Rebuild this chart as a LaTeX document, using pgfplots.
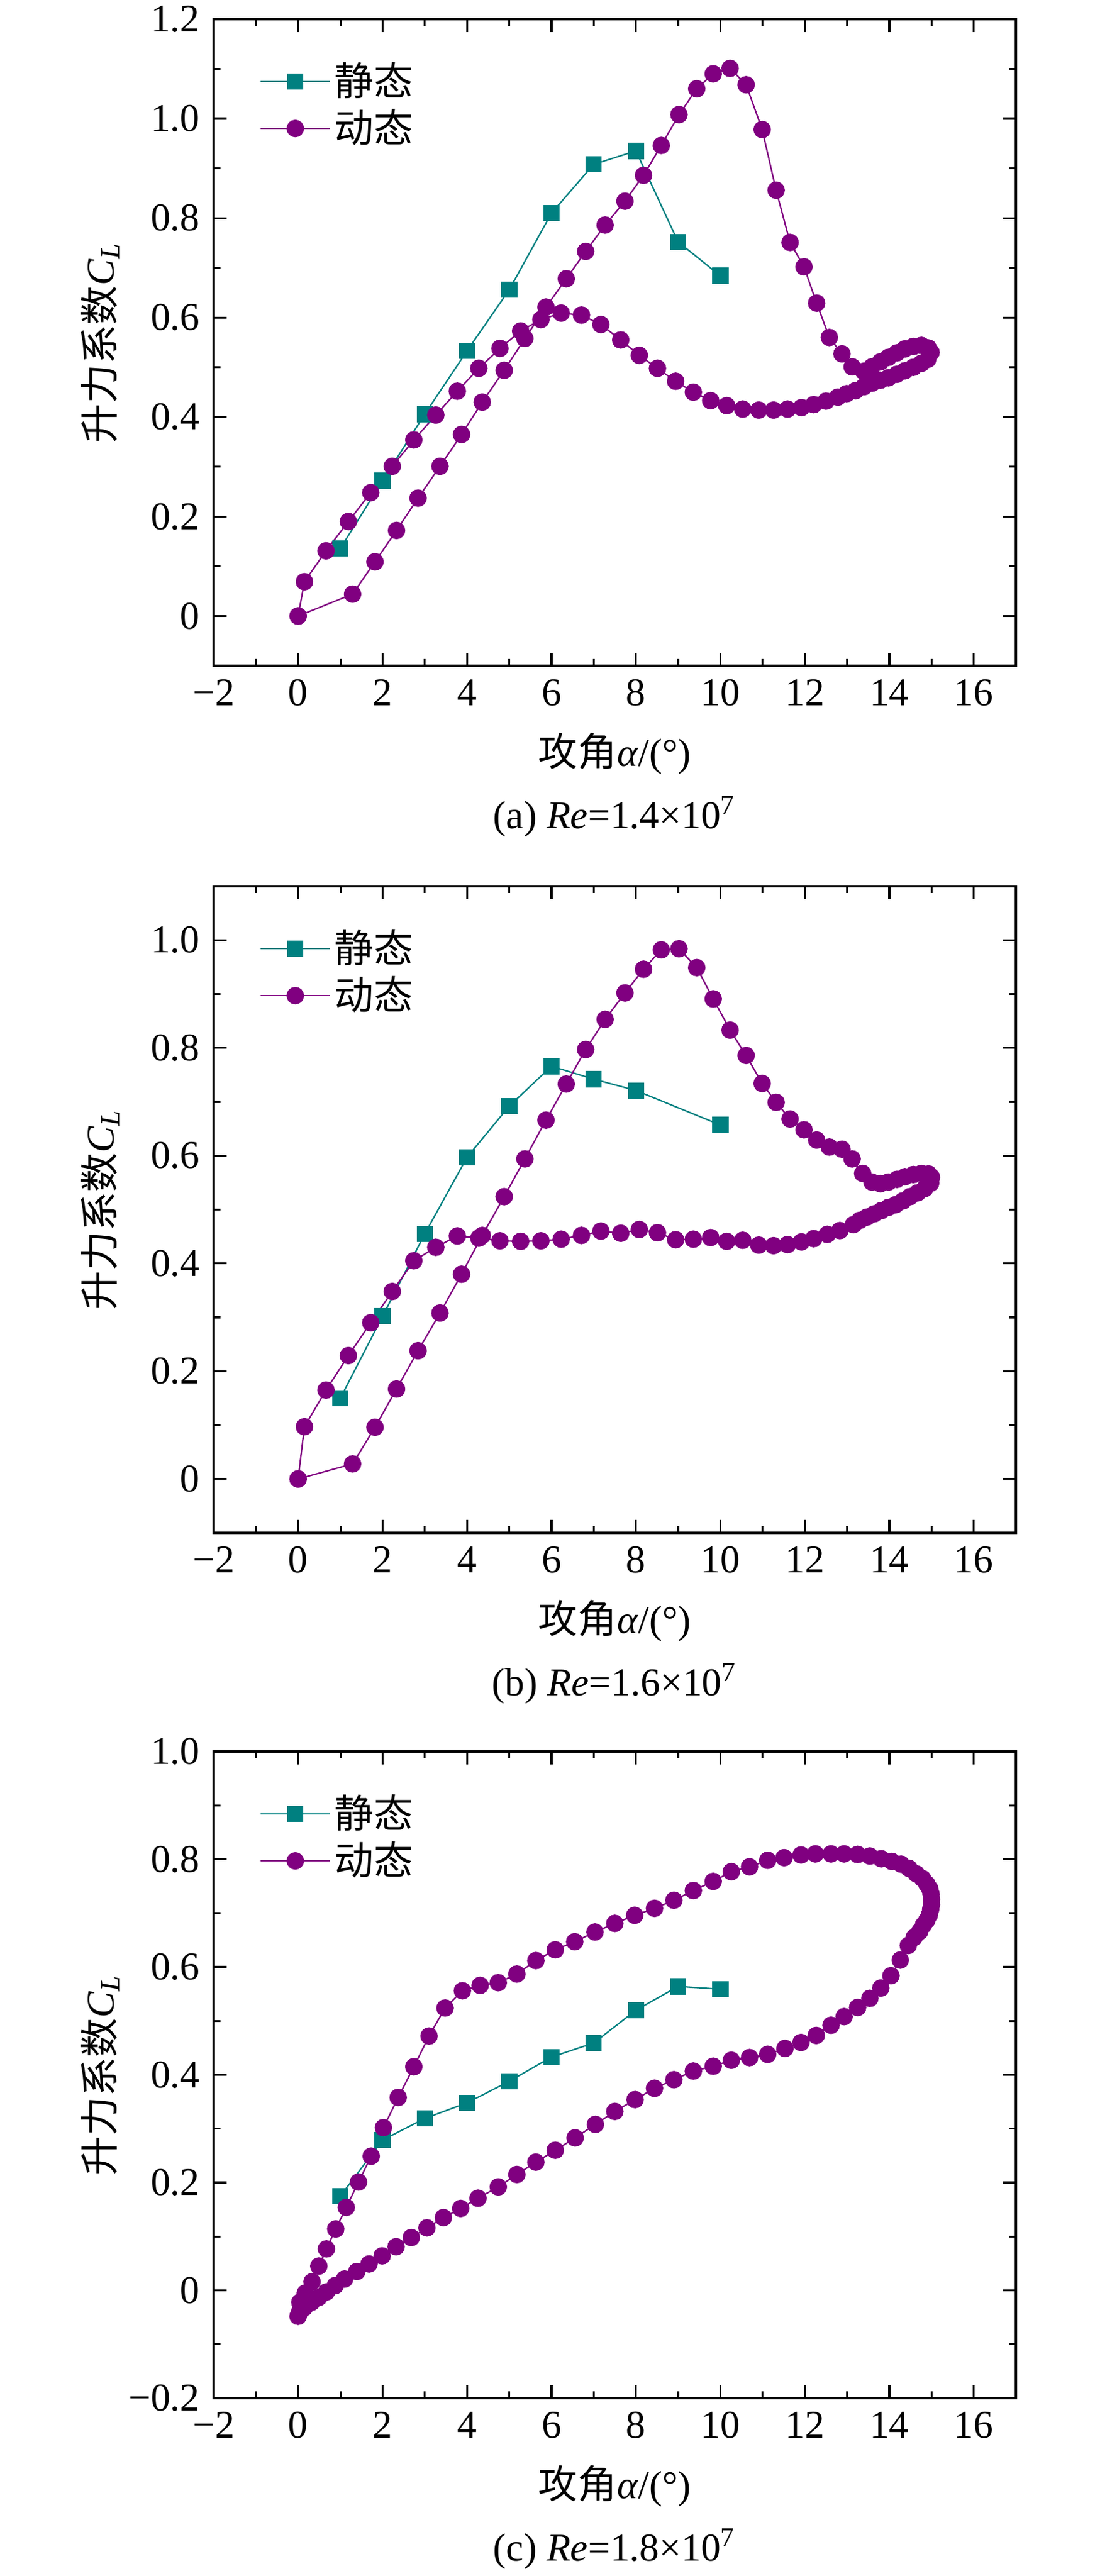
\documentclass[border=0pt]{standalone}
\usepackage{fontspec}
\setmainfont{Liberation Serif}
\newfontfamily\cjk{Noto Sans CJK SC}
\usepackage{pgfplots}
\pgfplotsset{compat=1.18}
\definecolor{myteal}{RGB}{0,128,128}
\definecolor{mypurple}{RGB}{128,0,128}
\pgfplotsset{
  myaxis/.style={
    scale only axis, width=204.25pt, height=164.62pt,
    anchor=north west,
    xmin=-2, xmax=17,
    xtick={-2,0,2,4,6,8,10,12,14,16},
    xticklabels={−2,0,2,4,6,8,10,12,14,16},
    minor x tick num=1, minor y tick num=1,
    tick align=inside,
    major tick length=3.3pt, minor tick length=1.7pt,
    axis line style={line width=0.63pt},
    every tick/.append style={line width=0.5pt, black},
    tick label style={font=\fontsize{10}{12}\selectfont},
    xlabel={{\cjk 攻角}\textit{α}/(°)},
    ylabel={{\cjk 升力系数}\textit{C}\textsubscript{\textit{L}}},
    xlabel style={at={(axis description cs:0.5,0)}, anchor=base, yshift=-25.5pt},
    ylabel style={at={(axis description cs:-0.1416,0.5)}, anchor=center},
    legend image code/.code={\draw[mark repeat=2,mark phase=2] plot coordinates {(0cm,0cm) (0.31cm,0cm) (0.62cm,0cm)};},
    legend style={draw=none, fill=none, at={(0.042,0.953)}, anchor=north west,
      nodes={inner sep=1pt, text depth=0.15em}, font=\cjk},
    legend cell align=left,
  },
  stat/.style={color=myteal, line width=0.36pt, mark=square*, mark size=1.89pt, mark options={solid, fill=myteal, draw=myteal}},
  dyn/.style={color=mypurple, line width=0.36pt, mark=*, mark size=2.05pt, mark options={solid, fill=mypurple, draw=mypurple}},
}
\begin{document}
\begin{tikzpicture}
\useasboundingbox (0,0) rectangle (278.62pt,-655.82pt);
% ---------------- (a)
\begin{axis}[myaxis, name=A, at={(54.40pt,-4.87pt)},
  ymin=-0.1, ymax=1.2,
  ytick={0,0.2,0.4,0.6,0.8,1.0,1.2},
  yticklabels={0,0.2,0.4,0.6,0.8,1.0,1.2}]
\addplot[stat] coordinates {(1,0.136) (2,0.272) (3,0.406) (4,0.533) (5,0.656) (6,0.810) (7,0.908) (8,0.935) (9,0.752) (10,0.684)};
\addlegendentry{静态}
\addplot[dyn] coordinates {
(0,0) (1.29,0.044) (1.82,0.109) (2.33,0.172) (2.84,0.237) (3.36,0.301) (3.87,0.365) (4.36,0.430)
(4.88,0.494) (5.37,0.558) (5.87,0.621) (6.35,0.678) (6.81,0.733) (7.27,0.786) (7.74,0.834) (8.18,0.886)
(8.60,0.946) (9.02,1.008) (9.44,1.060) (9.83,1.090) (10.23,1.101) (10.61,1.068) (10.99,0.978) (11.32,0.856)
(11.65,0.751) (11.98,0.702) (12.28,0.629) (12.58,0.560) (12.88,0.527) (13.12,0.501) (13.39,0.492)
(13.59,0.501) (13.79,0.511) (13.98,0.520) (14.18,0.529) (14.37,0.537) (14.57,0.542) (14.76,0.544)
(14.92,0.539) (14.99,0.530) (14.91,0.516) (14.76,0.508) (14.57,0.500) (14.37,0.493) (14.18,0.486)
(13.98,0.479) (13.79,0.474) (13.59,0.468) (13.40,0.461) (13.20,0.453) (12.99,0.447) (12.78,0.440)
(12.50,0.432) (12.21,0.425) (11.92,0.419) (11.59,0.416) (11.26,0.414) (10.91,0.414) (10.53,0.416)
(10.15,0.423) (9.77,0.433) (9.36,0.450) (8.94,0.472) (8.51,0.498) (8.08,0.524) (7.64,0.555) (7.17,0.586)
(6.71,0.605) (6.23,0.609) (5.75,0.596) (5.27,0.573) (4.78,0.538) (4.28,0.498) (3.77,0.452) (3.26,0.404)
(2.74,0.354) (2.23,0.301) (1.72,0.248) (1.19,0.190) (0.66,0.131) (0.15,0.069) (0,0)};
\addlegendentry{动态}
\end{axis}
\node[anchor=base] at ([yshift=-41.4pt]A.south) {(a) \textit{Re}=1.4×10\textsuperscript{7}};
% ---------------- (b)
\begin{axis}[myaxis, name=B, at={(54.40pt,-225.63pt)},
  ymin=-0.1, ymax=1.1,
  ytick={0,0.2,0.4,0.6,0.8,1.0},
  yticklabels={0,0.2,0.4,0.6,0.8,1.0}]
\addplot[stat] coordinates {(1,0.150) (2,0.302) (3,0.455) (4,0.597) (5,0.692) (6,0.766) (7,0.742) (8,0.721) (10,0.657)};
\addlegendentry{静态}
\addplot[dyn] coordinates {
(0,0) (1.29,0.028) (1.82,0.096) (2.33,0.167) (2.84,0.238) (3.36,0.308) (3.87,0.380) (4.36,0.452)
(4.88,0.524) (5.37,0.594) (5.87,0.666) (6.35,0.733) (6.81,0.797) (7.27,0.853) (7.74,0.902) (8.18,0.946)
(8.60,0.982) (9.02,0.984) (9.44,0.949) (9.83,0.891) (10.23,0.833) (10.61,0.786) (10.99,0.734) (11.32,0.699)
(11.65,0.668) (11.98,0.648) (12.28,0.629) (12.58,0.616) (12.88,0.612) (13.12,0.594) (13.37,0.567)
(13.59,0.551) (13.79,0.548) (13.98,0.551) (14.18,0.556) (14.37,0.561) (14.57,0.565) (14.76,0.567)
(14.93,0.566) (15.00,0.560) (14.98,0.549) (14.84,0.539) (14.67,0.531) (14.49,0.524) (14.32,0.516)
(14.15,0.509) (13.98,0.504) (13.81,0.498) (13.64,0.492) (13.47,0.486) (13.30,0.480) (13.15,0.472)
(12.83,0.461) (12.53,0.454) (12.21,0.446) (11.92,0.440) (11.59,0.435) (11.26,0.433) (10.91,0.434)
(10.53,0.443) (10.15,0.441) (9.77,0.448) (9.36,0.445) (8.94,0.444) (8.51,0.457) (8.08,0.463) (7.64,0.456)
(7.17,0.460) (6.71,0.452) (6.23,0.445) (5.75,0.442) (5.27,0.441) (4.78,0.442) (4.28,0.447) (3.77,0.451)
(3.26,0.430) (2.74,0.405) (2.23,0.348) (1.72,0.290) (1.19,0.229) (0.66,0.165) (0.15,0.097) (0,0)};
\addlegendentry{动态}
\end{axis}
\node[anchor=base] at ([yshift=-41.4pt]B.south) {(b) \textit{Re}=1.6×10\textsuperscript{7}};
% ---------------- (c)
\begin{axis}[myaxis, name=C, at={(54.40pt,-445.91pt)},
  ymin=-0.2, ymax=1.0,
  ytick={-0.2,0,0.2,0.4,0.6,0.8,1.0},
  yticklabels={−0.2,0,0.2,0.4,0.6,0.8,1.0}]
\addplot[stat] coordinates {(1,0.175) (2,0.279) (3,0.319) (4,0.348) (5,0.388) (6,0.433) (7,0.459) (8,0.520) (9,0.564) (10,0.559)};
\addlegendentry{静态}
\addplot[dyn] coordinates {
(0,-0.048) (0.04,-0.022) (0.17,-0.005) (0.33,0.016) (0.49,0.045) (0.67,0.077) (0.89,0.114) (1.14,0.154)
(1.43,0.201) (1.73,0.249) (2.02,0.302) (2.37,0.358) (2.74,0.415) (3.10,0.472) (3.48,0.524) (3.89,0.556)
(4.31,0.566) (4.74,0.571) (5.18,0.587) (5.63,0.612) (6.09,0.632) (6.55,0.647) (7.03,0.665) (7.50,0.681)
(7.97,0.696) (8.44,0.709) (8.90,0.724) (9.36,0.742) (9.83,0.759) (10.26,0.777) (10.69,0.786) (11.12,0.798)
(11.51,0.803) (11.91,0.808) (12.25,0.810) (12.62,0.810) (12.93,0.810) (13.25,0.809) (13.54,0.806)
(13.81,0.801) (14.06,0.796) (14.28,0.791) (14.47,0.783) (14.64,0.773) (14.79,0.764) (14.89,0.754)
(14.96,0.745) (14.99,0.735) (15.00,0.726) (15.00,0.716) (14.98,0.707) (14.95,0.697) (14.89,0.687)
(14.81,0.678) (14.72,0.666) (14.59,0.655) (14.45,0.640) (14.26,0.613) (14.04,0.584) (13.80,0.561)
(13.54,0.542) (13.25,0.525) (12.93,0.508) (12.62,0.492) (12.27,0.473) (11.91,0.460) (11.53,0.449)
(11.12,0.438) (10.69,0.432) (10.26,0.427) (9.83,0.416) (9.36,0.407) (8.90,0.391) (8.44,0.375)
(7.98,0.354) (7.50,0.332) (7.04,0.308) (6.56,0.283) (6.09,0.260) (5.63,0.238) (5.18,0.215) (4.74,0.192)
(4.26,0.171) (3.85,0.152) (3.44,0.135) (3.05,0.116) (2.68,0.098) (2.32,0.081) (1.99,0.064) (1.68,0.049)
(1.39,0.035) (1.10,0.021) (0.88,0.009) (0.67,-0.003) (0.49,-0.013) (0.32,-0.022) (0.15,-0.032)
(0.03,-0.041) (0,-0.048)};
\addlegendentry{动态}
\end{axis}
\node[anchor=base] at ([yshift=-41.4pt]C.south) {(c) \textit{Re}=1.8×10\textsuperscript{7}};
\end{tikzpicture}
\end{document}
